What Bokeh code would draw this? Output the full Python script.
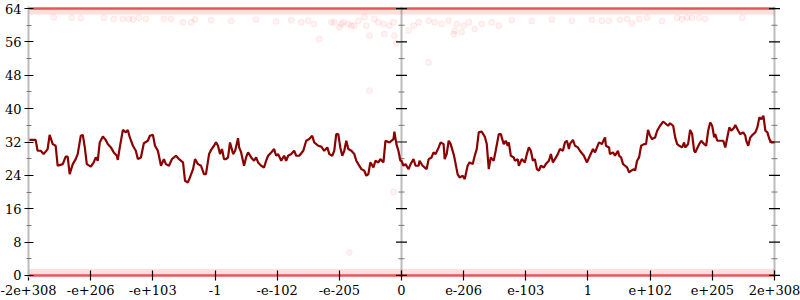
from bokeh.plotting import figure
from bokeh.models import FixedTicker, LinearAxis, Span, Range1d
from bokeh.embed import file_html
from bokeh.resources import INLINE

# x axis: doubles ordered by bit pattern (signed exponent-like scale)
x_ticks = [-2047, -1706, -1365, -1023, -682, -341, 0, 341, 682, 1023, 1365, 1706, 2047]
x_tick_labels = ["-2e+308", "-e+206", "-e+103", "-1", "-e-102", "-e-205", "0",
                 "e-206", "e-103", "1", "e+102", "e+205", "2e+308"]
y_ticks = [0, 8, 16, 24, 32, 40, 48, 56, 64]
y_minor = [4, 12, 20, 28, 36, 44, 52, 60]

line_x = [
    -2046, -2008, -1997, -1980, -1964, -1942, -1931, -1914, -1898, -1887,
    -1859, -1843, -1832, -1821, -1804, -1788, -1777, -1760, -1749, -1738,
    -1727, -1705, -1689, -1678, -1667, -1656, -1639, -1623, -1612, -1595,
    -1579, -1562, -1557, -1546, -1529, -1513, -1502, -1491, -1474, -1458,
    -1447, -1430, -1414, -1392, -1381, -1364, -1353, -1337, -1320, -1304,
    -1293, -1276, -1260, -1238, -1221, -1199, -1188, -1172, -1161, -1144,
    -1133, -1117, -1100, -1084, -1073, -1056, -1045, -1029, -1018, -1007,
    -996, -985, -974, -963, -952, -941, -924, -913, -897, -891,
    -880, -864, -853, -842, -825, -809, -798, -787, -770, -754,
    -743, -732, -715, -699, -688, -677, -660, -644, -633, -622,
    -605, -589, -578, -561, -539, -523, -506, -490, -479, -457,
    -440, -424, -407, -396, -380, -369, -358, -347, -336, -325,
    -314, -303, -292, -275, -259, -248, -237, -220, -204, -193,
    -182, -171, -154, -143, -127, -116, -99, -88, -66, -44,
    -39, -28, -17, -6, 0, 11, 22, 39, 50, 66,
    77, 94, 99, 116, 127, 138, 149, 165, 176, 187,
    204, 215, 231, 237, 248, 259, 270, 286, 292, 308,
    319, 336, 347, 363, 374, 391, 402, 413, 424, 440,
    457, 468, 479, 490, 506, 517, 534, 545, 561, 572,
    583, 589, 600, 616, 622, 638, 644, 660, 677, 688,
    699, 710, 721, 732, 743, 754, 765, 781, 792, 809,
    820, 831, 842, 858, 869, 886, 897, 908, 919, 924,
    941, 952, 968, 979, 1001, 1018, 1034, 1051, 1062, 1073,
    1084, 1100, 1117, 1122, 1139, 1144, 1161, 1172, 1177, 1188,
    1194, 1205, 1216, 1227, 1238, 1249, 1260, 1276, 1282, 1293,
    1304, 1315, 1331, 1342, 1353, 1364, 1375, 1392, 1403, 1419,
    1436, 1447, 1463, 1474, 1491, 1502, 1513, 1524, 1540, 1551,
    1557, 1573, 1584, 1595, 1606, 1612, 1634, 1645, 1661, 1672,
    1683, 1694, 1705, 1716, 1722, 1733, 1749, 1766, 1777, 1788,
    1799, 1810, 1826, 1832, 1848, 1859, 1876, 1887, 1892, 1903,
    1914, 1931, 1942, 1953, 1964, 1975, 1986, 1997, 2008, 2019,
    2030, 2047,
]
line_y = [
    32.5, 32.5, 29.9, 29.9, 29.1, 30.3, 33.7, 31.5, 31.1, 26.3,
    26.7, 28.5, 28.5, 24.3, 26.7, 27.9, 29.1, 33.5, 33.7, 30.7,
    26.7, 26.1, 27.1, 28.3, 27.5, 31.9, 33.3, 32.5, 31.5, 30.7,
    29.5, 28.7, 27.7, 30.7, 34.9, 34.3, 34.9, 33.1, 31.1, 29.9,
    27.9, 28.3, 31.7, 32.3, 33.5, 33.7, 31.1, 29.9, 26.3, 27.9,
    26.7, 26.3, 27.9, 28.7, 27.9, 27.1, 22.7, 22.3, 23.5, 25.5,
    27.9, 26.7, 26.3, 24.3, 24.3, 29.1, 30.1, 31.1, 31.9, 31.1,
    29.1, 30.3, 27.9, 27.9, 28.3, 31.9, 29.1, 29.9, 32.9, 30.7,
    29.5, 26.3, 28.3, 29.5, 28.3, 27.5, 28.3, 27.1, 26.3, 25.9,
    27.5, 28.7, 29.5, 30.3, 28.7, 29.1, 27.5, 28.7, 27.5, 28.7,
    29.1, 29.9, 28.7, 28.7, 29.9, 32.3, 32.7, 33.5, 31.9, 31.1,
    30.9, 29.9, 30.7, 29.1, 28.7, 29.9, 33.9, 33.9, 30.7, 28.7,
    29.9, 32.3, 30.3, 29.9, 29.1, 27.5, 26.7, 25.5, 25.1, 23.9,
    24.3, 27.1, 25.9, 27.5, 27.1, 27.9, 27.1, 32.3, 31.9, 32.7,
    34.5, 31.5, 29.9, 27.5, 27.5, 26.3, 26.7, 25.5, 26.7, 27.9,
    26.3, 26.3, 27.5, 26.3, 25.9, 25.5, 27.9, 28.3, 29.5, 29.1,
    30.7, 31.9, 31.5, 27.9, 29.1, 32.3, 31.5, 29.1, 27.9, 24.3,
    23.5, 23.9, 23.1, 26.3, 27.1, 26.7, 28.7, 30.3, 34.3, 34.5,
    33.3, 31.5, 25.5, 28.3, 27.5, 29.9, 33.9, 33.9, 31.5, 32.3,
    31.1, 31.9, 28.7, 28.3, 27.5, 27.9, 26.3, 27.9, 27.1, 29.1,
    30.7, 29.9, 27.5, 27.9, 25.5, 25.1, 26.3, 25.9, 26.7, 27.5,
    29.1, 27.1, 27.9, 29.1, 30.3, 29.9, 31.9, 32.3, 30.3, 31.5,
    32.5, 31.1, 30.7, 29.9, 28.7, 27.1, 28.7, 30.3, 29.5, 30.7,
    31.9, 31.5, 33.1, 31.1, 30.7, 29.1, 29.5, 28.7, 29.1, 29.9,
    28.7, 28.3, 26.7, 26.3, 25.9, 24.7, 25.1, 25.5, 25.1, 27.5,
    28.3, 31.1, 31.5, 31.5, 34.9, 33.5, 32.7, 33.1, 34.7, 35.9,
    36.9, 36.5, 35.9, 36.5, 35.9, 33.1, 31.5, 31.1, 30.7, 31.9,
    30.7, 31.5, 34.9, 33.9, 29.9, 29.5, 31.5, 32.3, 31.5, 31.1,
    34.7, 36.7, 35.9, 33.1, 33.9, 32.3, 32.3, 32.3, 30.7, 33.1,
    35.5, 34.7, 35.5, 36.1, 34.7, 33.9, 34.3, 33.5, 32.3, 31.1,
    33.1, 33.9, 34.3, 35.5, 37.9, 37.5, 38.3, 34.7, 34.3, 32.7,
    31.9, 31.9,
]

# scattered individual samples (faint circles)
cloud_x = [
    -1909, -1810, -1760, -1634, -1579, -1529, -1496, -1474, -1441, -1403,
    -1304, -1265, -1199, -1155, -1133, -1045, -935, -798, -688, -605,
    -550, -512, -479, -451, -385, -369, -341, -330, -319, -292,
    -275, -259, -237, -204, -193, -176, -176, -149, -127, -99,
    -94, -66, -44, -39, -28, 39, 66, 94, 149, 149,
    182, 220, 259, 286, 292, 303, 330, 341, 369, 402,
    440, 495, 534, 605, 715, 825, 935, 1045, 1100, 1139,
    1199, 1238, 1265, 1304, 1348, 1430, 1513, 1540, 1568, 1595,
    1634, 1667, 1870, -286, -44, 424,
]
cloud_y = [
    61.9, 61.8, 61.7, 61.8, 61.5, 61.5, 61.5, 61.4, 61.8, 61.5,
    61.5, 61.5, 60.7, 60.7, 61.4, 61.2, 61.0, 61.4, 60.9, 61.2,
    60.7, 61.1, 60.3, 56.7, 60.7, 60.7, 59.5, 60.3, 60.7, 60.3,
    59.9, 59.9, 61.1, 61.9, 59.9, 57.5, 44.3, 61.5, 60.7, 60.3,
    57.9, 59.9, 60.7, 57.5, 55.7, 58.7, 59.9, 60.7, 61.1, 51.1,
    60.7, 60.3, 61.1, 57.9, 58.7, 60.3, 58.3, 59.9, 60.7, 59.1,
    60.3, 60.7, 59.9, 61.2, 61.0, 61.4, 61.1, 61.3, 61.1, 61.1,
    61.3, 61.5, 60.5, 61.5, 61.8, 61.0, 61.8, 61.5, 61.8, 61.8,
    61.8, 61.5, 61.8, 5.5, 20.0, 27.5,
]

# dense bands of samples at the extremes
band_x = [-2047, 2047]
top_band_y = [64, 64]
top_fuzz_y = [63.3, 63.3]
bottom_band_y = [0, 0]
bottom_fuzz_y = [0.8, 0.8]

x_min, x_max = x_ticks[0], x_ticks[-1]

p = figure(width=800, height=300, output_backend="svg", toolbar_location=None,
           x_range=Range1d(x_min, x_max + 33), y_range=Range1d(-0.5, 64.5),
           x_axis_location=None, y_axis_location=None,
           min_border_left=28, min_border_right=20, min_border_top=6, min_border_bottom=23)
p.grid.visible = False
p.outline_line_color = None
p.background_fill_color = "white"
p.border_fill_color = "white"

FONT = "DejaVu Serif"
AXIS_GRAY = "#bcbcbc"

# faint sample circles
p.scatter(cloud_x, cloud_y, size=6, fill_color="red", fill_alpha=0.05,
          line_color="red", line_alpha=0.07)
# bands
p.line(band_x, top_fuzz_y, line_color="red", line_alpha=0.13, line_width=6)
p.line(band_x, bottom_fuzz_y, line_color="red", line_alpha=0.13, line_width=6)
p.line(band_x, top_band_y, line_color="#e02025", line_alpha=0.75, line_width=2.5)
p.line(band_x, bottom_band_y, line_color="#e02025", line_alpha=0.75, line_width=2.5)

# center axis at x = 0 and right axis at x = max
for loc in (0, x_max):
    p.add_layout(Span(location=loc, dimension="height", line_color=AXIS_GRAY,
                      line_width=2, level="underlay"))
    p.scatter([loc] * len(y_minor), y_minor, marker="dash", size=6,
              line_color="#777777", line_width=1)
    p.scatter([loc] * len(y_ticks), y_ticks, marker="dash", size=11,
              line_color="black", line_width=1.2)

# main line
p.line(line_x, line_y, line_color="#8b0000", line_width=2.2)


def style_axis(ax):
    ax.axis_line_color = AXIS_GRAY
    ax.axis_line_width = 2
    ax.major_tick_line_color = "black"
    ax.major_tick_line_width = 1.2
    ax.minor_tick_line_color = "#777777"
    ax.major_label_text_font = FONT
    ax.major_label_text_font_size = "13px"
    ax.major_label_text_color = "black"


left = LinearAxis(ticker=FixedTicker(ticks=y_ticks, minor_ticks=y_minor))
style_axis(left)
left.major_tick_in = 5
left.major_tick_out = 4
left.minor_tick_in = 3
left.minor_tick_out = 2
left.major_label_standoff = 3
p.add_layout(left, "left")

bottom = LinearAxis(ticker=FixedTicker(ticks=x_ticks, minor_ticks=[]),
                    major_label_overrides={t: s for t, s in zip(x_ticks, x_tick_labels)})
style_axis(bottom)
bottom.axis_line_color = None
bottom.major_tick_in = 7
bottom.major_tick_out = 3
bottom.minor_tick_in = 0
bottom.minor_tick_out = 0
bottom.major_label_standoff = 4
p.add_layout(bottom, "below")

open("out.html", "w").write(file_html(p, INLINE))
